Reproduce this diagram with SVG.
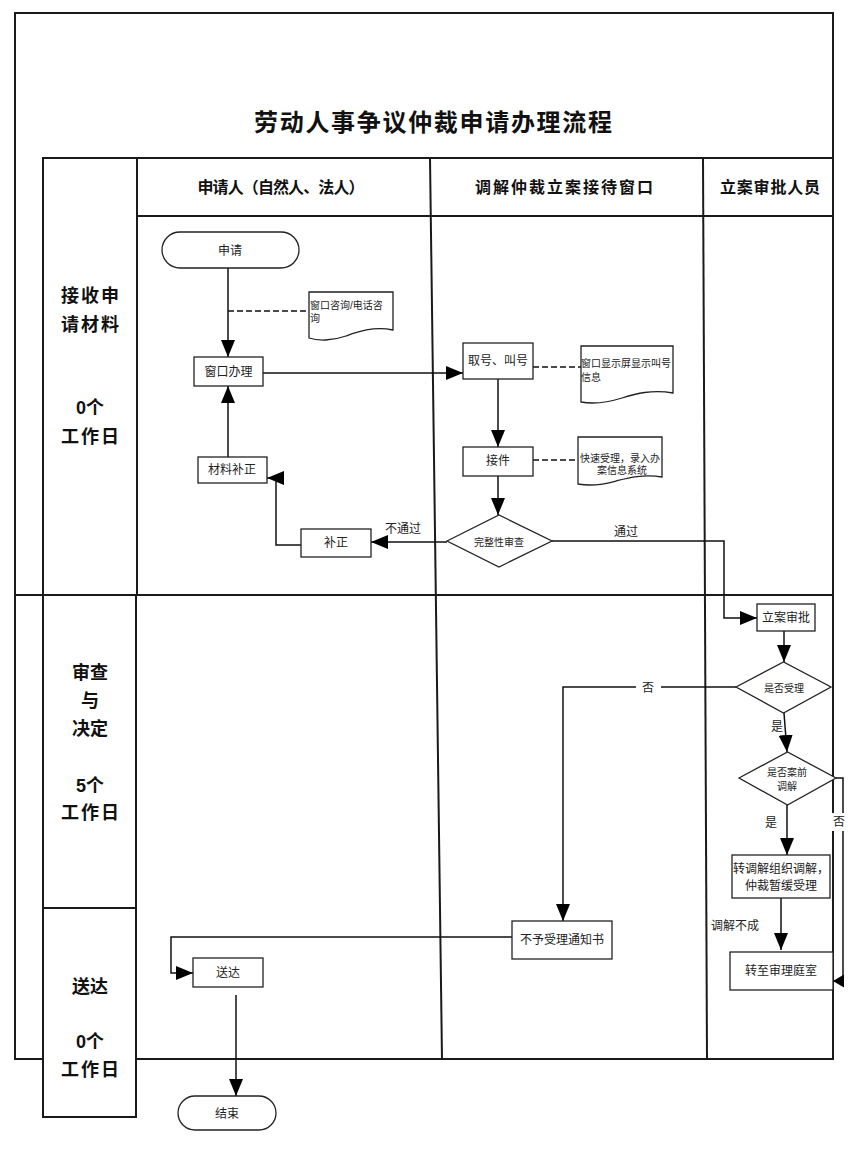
<svg xmlns="http://www.w3.org/2000/svg" width="852" height="1152" viewBox="0 0 852 1152">
<style>
.frame{stroke:#1a1a1a;stroke-width:2;fill:none}
.ln{stroke:#111;stroke-width:1.5;fill:none}
.dash{stroke-dasharray:6 3}
.node{fill:#fff;stroke:#222;stroke-width:1.3}
.t{font-family:"Liberation Sans","Noto Sans CJK SC",sans-serif;font-size:12px;fill:#222;text-anchor:middle;dominant-baseline:central}
.s{font-size:10px}
.l{text-anchor:start}
.hd{font-family:"Liberation Sans","Noto Sans CJK SC",sans-serif;font-size:16px;font-weight:bold;fill:#111;text-anchor:middle;dominant-baseline:central}
.lb{font-family:"Liberation Sans","Noto Sans CJK SC",sans-serif;font-size:18px;font-weight:bold;fill:#111;text-anchor:middle;dominant-baseline:central}
</style>
<defs>
<marker id="ah" markerUnits="userSpaceOnUse" markerWidth="17" markerHeight="14" refX="17" refY="7" orient="auto"><path d="M0,0 L17,7 L0,14 Z" fill="#000"/></marker>
<marker id="ahs" markerUnits="userSpaceOnUse" markerWidth="11" markerHeight="13" refX="11" refY="6.5" orient="auto"><path d="M0,0 L11,6.5 L0,13 Z" fill="#000"/></marker>
</defs>
<rect width="852" height="1152" fill="#fff"/>
<g id="frame">
<rect class="frame" x="15" y="13" width="818" height="1046"/>
<line class="frame" x1="43" y1="158" x2="833" y2="158"/>
<line class="frame" x1="137" y1="216" x2="833" y2="216"/>
<line class="frame" x1="15" y1="595" x2="833" y2="595"/>
<line class="frame" x1="430" y1="158" x2="442" y2="1059"/>
<line class="frame" x1="703" y1="158" x2="707" y2="1059"/>
<rect x="43" y="158" width="94" height="437" fill="#fff" stroke="#1a1a1a" stroke-width="2"/>
<rect x="43" y="595" width="93" height="313" fill="#fff" stroke="#1a1a1a" stroke-width="2"/>
<rect x="43" y="908" width="93" height="209" fill="#fff" stroke="#1a1a1a" stroke-width="2"/>
</g>
<g id="title">
<text x="433" y="122" font-family="'Liberation Sans','Noto Sans CJK SC',sans-serif" font-size="24" font-weight="bold" fill="#111" text-anchor="middle" dominant-baseline="central" textLength="358" lengthAdjust="spacing">劳动人事争议仲裁申请办理流程</text>
</g>
<g id="headers">
<text class="hd" x="281" y="187" textLength="167" lengthAdjust="spacing">申请人（自然人、法人）</text>
<text class="hd" x="564" y="187" textLength="178" lengthAdjust="spacing">调解仲裁立案接待窗口</text>
<text class="hd" x="770" y="187" textLength="100" lengthAdjust="spacing">立案审批人员</text>
</g>
<g id="phase-labels">
<text class="lb" x="90" y="296" textLength="58" lengthAdjust="spacing">接收申</text>
<text class="lb" x="90" y="325" textLength="58" lengthAdjust="spacing">请材料</text>
<text class="lb" x="90" y="408">0个</text>
<text class="lb" x="90" y="437" textLength="58" lengthAdjust="spacing">工作日</text>
<text class="lb" x="90" y="673">审查</text>
<text class="lb" x="90" y="701">与</text>
<text class="lb" x="90" y="729">决定</text>
<text class="lb" x="90" y="786">5个</text>
<text class="lb" x="90" y="813" textLength="58" lengthAdjust="spacing">工作日</text>
<text class="lb" x="90" y="987">送达</text>
<text class="lb" x="90" y="1042">0个</text>
<text class="lb" x="90" y="1070" textLength="58" lengthAdjust="spacing">工作日</text>
</g>
<g id="connectors">
<path class="ln" d="M228,268 V357" marker-end="url(#ah)"/>
<path class="ln dash" d="M228,311 H309"/>
<path class="ln" d="M228,457 V386" marker-end="url(#ah)"/>
<path class="ln" d="M263,373 H463" marker-end="url(#ah)"/>
<path class="ln dash" d="M533,367 H581"/>
<path class="ln" d="M498,379 V447" marker-end="url(#ah)"/>
<path class="ln dash" d="M533,460 H578"/>
<path class="ln" d="M498,476 V515" marker-end="url(#ah)"/>
<path class="ln" d="M447,542 H371" marker-end="url(#ah)"/>
<path class="ln" d="M301,545 H276 V478 H267" marker-end="url(#ah)"/>
<path class="ln" d="M552,541 H724 V618 H757" marker-end="url(#ah)"/>
<path class="ln" d="M784,631 V662" marker-end="url(#ah)"/>
<path class="ln" d="M784,713 L787,752" marker-end="url(#ah)"/>
<path class="ln" d="M736,687 H563 V921" marker-end="url(#ah)"/>
<path class="ln" d="M787,805 V855" marker-end="url(#ah)"/>
<path class="ln" d="M781,898 V950" marker-end="url(#ah)"/>
<path class="ln" d="M836,778 H843 V981 H833" marker-end="url(#ahs)"/>
<path class="ln" d="M512,937 H171 V973 H193" marker-end="url(#ah)"/>
<path class="ln" d="M236,995 V1096" marker-end="url(#ah)"/>
</g>
<g id="connector-labels">
<text class="t" x="403" y="529" font-size="11">不通过</text>
<text class="t" x="626" y="532">通过</text>
<rect x="636" y="679" width="25" height="16" fill="#fff"/>
<text class="t" x="648" y="688">否</text>
<text class="t" x="777" y="727" font-size="13">是</text>
<text class="t" x="771" y="823" font-size="13">是</text>
<rect x="832" y="813" width="16" height="18" fill="#fff"/>
<text class="t" x="839" y="822" font-size="13">否</text>
<text class="t" x="735" y="926" font-size="11">调解不成</text>
</g>
<g id="n_start"><rect class="node" x="162" y="232" width="137" height="36" rx="18"/><text class="t" x="230" y="251">申请</text></g>
<g id="n_consult"><path class="node" d="M309,292 H393 V330 C373,326 357,332 346,336 C332,341 318,341 309,338 Z"/><text class="t s l" x="310" y="305">窗口咨询/电话咨</text><text class="t s l" x="310" y="318">询</text></g>
<g id="n_window"><rect class="node" x="194" y="357" width="69" height="29"/><text class="t" x="228.5" y="372">窗口办理</text></g>
<g id="n_material"><rect class="node" x="198" y="457" width="69" height="26"/><text class="t" x="232" y="470">材料补正</text></g>
<g id="n_fix"><rect class="node" x="301" y="529" width="70" height="28"/><text class="t" x="336" y="543">补正</text></g>
<g id="n_ticket"><rect class="node" x="463" y="343" width="70" height="36"/><text class="t" x="498" y="361">取号、叫号</text></g>
<g id="n_display"><path class="node" d="M581,346 H673 V393 C652,389 635,394 622,398 C606,403 592,404 581,402 Z"/><text class="t s l" x="581" y="363">窗口显示屏显示叫号</text><text class="t s l" x="581" y="377">信息</text></g>
<g id="n_receive"><rect class="node" x="463" y="447" width="70" height="29"/><text class="t" x="498" y="461">接件</text></g>
<g id="n_fast"><path class="node" d="M578,437 H662 V477 C643,474 628,478 616,481 C602,485 589,486 578,484 Z"/><text class="t s" x="620" y="458">快速受理，录入办</text><text class="t s" x="622" y="470">案信息系统</text></g>
<g id="n_check"><polygon class="node" points="447,541 499,515 552,541 499,567"/><text class="t s" x="499" y="542">完整性审查</text></g>
<g id="n_approve"><rect class="node" x="757" y="604" width="58" height="27"/><text class="t" x="786" y="618">立案审批</text></g>
<g id="n_accept"><polygon class="node" points="736,687 783.5,662 831,687 783.5,713"/><text class="t s" x="784" y="688">是否受理</text></g>
<g id="n_mediate_q"><polygon class="node" points="739,778 787.5,752 836,778 787.5,805"/><text class="t s" x="787" y="772">是否案前</text><text class="t s" x="787" y="786">调解</text></g>
<g id="n_mediate"><rect class="node" x="732" y="855" width="98" height="43"/><text class="t" x="781" y="869">转调解组织调解，</text><text class="t" x="781" y="886">仲裁暂缓受理</text></g>
<g id="n_court"><rect class="node" x="730" y="952" width="103" height="38"/><text class="t" x="781" y="971">转至审理庭室</text></g>
<g id="n_reject"><rect class="node" x="512" y="921" width="100" height="38"/><text class="t" x="562" y="940">不予受理通知书</text></g>
<g id="n_deliver"><rect class="node" x="193" y="958" width="70" height="29"/><text class="t" x="228" y="973">送达</text></g>
<g id="n_end"><rect class="node" x="178" y="1096" width="98" height="34" rx="17"/><text class="t" x="227" y="1114">结束</text></g>
</svg>
